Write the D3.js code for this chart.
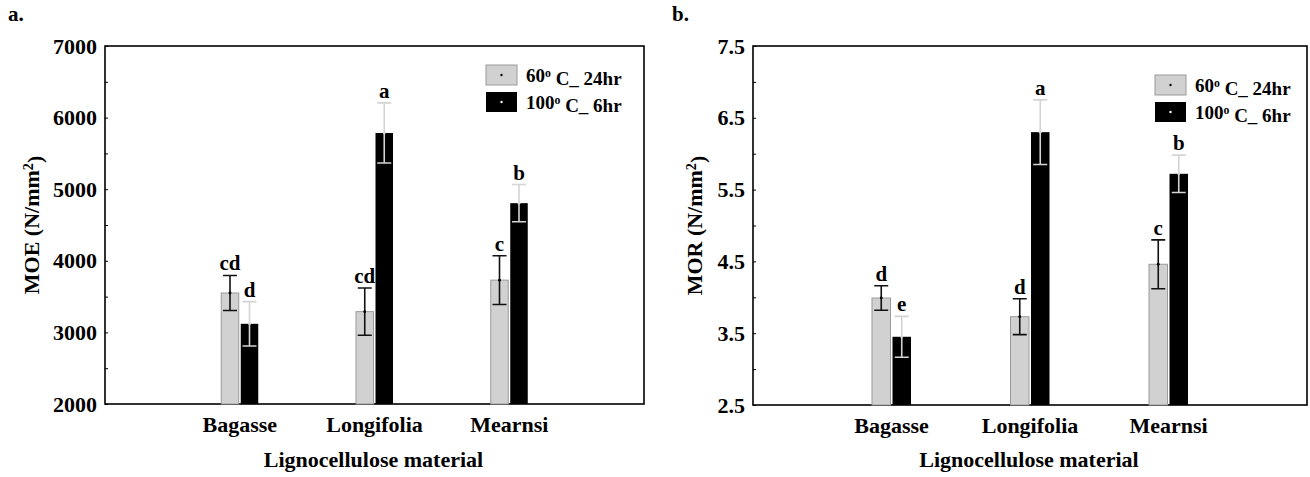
<!DOCTYPE html>
<html>
<head>
<meta charset="utf-8">
<script src="https://cdn.jsdelivr.net/npm/d3@7"></script>
<style>
  body { margin: 0; background: #ffffff; }
  svg text { font-family: "Liberation Serif", "Times New Roman", serif; font-weight: bold; fill: #000; }
</style>
</head>
<body>
<svg id="chart" width="1310" height="477"></svg>
<script>
// values
const categories = ["Bagasse", "Longifolia", "Mearnsi"];
const seriesTemp = ["60", "100"];
const seriesTime = ["24hr", "6hr"];

const moe60 = [3550, 3290, 3730];
const moe60Err = [245, 330, 340];
const moe100 = [3120, 5785, 4805];
const moe100Err = [310, 420, 260];
const moeLetters60 = ["cd", "cd", "c"];
const moeLetters100 = ["d", "a", "b"];
const moeTicks = [2000, 3000, 4000, 5000, 6000, 7000];
const moeMinor = [2500, 3500, 4500, 5500, 6500];

const mor60 = [3.99, 3.73, 4.46];
const mor60Err = [0.17, 0.25, 0.34];
const mor100 = [3.45, 6.30, 5.72];
const mor100Err = [0.285, 0.45, 0.26];
const morLetters60 = ["d", "d", "c"];
const morLetters100 = ["e", "a", "b"];
const morTicks = [2.5, 3.5, 4.5, 5.5, 6.5, 7.5];
const morMinor = [3.0, 4.0, 5.0, 6.0, 7.0];

const grayFill = "#d0d1d0";
const grayStroke = "#9a9a9a";
const lightErr = "#d4d4d4";

const svg = d3.select("#chart");


function superLabel(sel, temp, time) {
    sel.append("tspan").text(temp);
    sel.append("tspan")
        .attr("dy", "-0.45em")
        .style("font-size", "0.62em")
        .text("o");
    sel.append("tspan")
        .attr("dy", "0.45em")
        .text(" C_ " + time);
}


function drawPanel(p) {
    let g = svg.append("g");

    const x = d3.scalePoint()
        .domain(categories)
        .range([p.left, p.right])
        .padding(1);

    const y = d3.scaleLinear()
        .domain(p.domain)
        .range([p.bottom, p.top]);

    // panel letter
    g.append("text")
        .attr("x", p.labelX)
        .attr("y", 21)
        .style("font-size", "21px")
        .text(p.label);

    // y axis, labels only on the major ticks
    g.append("g")
        .attr("transform", `translate(${p.left},0)`)
        .call(d3.axisLeft(y).tickValues(p.ticks).tickSize(0).tickPadding(8).tickFormat(p.fmt))
        .call(a => a.select(".domain").remove())
        .selectAll("text")
        .style("font-size", "22px")
        .style("font-family", "Liberation Serif, serif")
        .style("font-weight", "bold");

    g.append("g")
        .attr("transform", `translate(${p.left},0)`)
        .call(d3.axisRight(y).tickValues(p.minor.concat(p.ticks)).tickSize(3).tickFormat(""))
        .call(a => a.select(".domain").remove())
        .selectAll("line")
        .attr("stroke", "#000");

    // frame
    g.append("rect")
        .attr("x", p.left)
        .attr("y", p.top)
        .attr("width", p.right - p.left)
        .attr("height", p.bottom - p.top)
        .attr("fill", "none")
        .attr("stroke", "#000")
        .attr("stroke-width", 1.6);

    // category labels
    g.selectAll("text.cat")
        .data(categories)
        .join("text")
        .attr("class", "cat")
        .attr("x", d => x(d))
        .attr("y", p.bottom + 28)
        .attr("text-anchor", "middle")
        .style("font-size", "22px")
        .text(d => d);

    g.append("text")
        .attr("x", (p.left + p.right) / 2 - 1)
        .attr("y", 467)
        .attr("text-anchor", "middle")
        .style("font-size", "22px")
        .text("Lignocellulose material");

    g.append("text")
        .attr("transform", `translate(${p.titleX},${(p.top + p.bottom) / 2}) rotate(-90)`)
        .attr("text-anchor", "middle")
        .style("font-size", "22px")
        .each(function() {
            let t = d3.select(this);
            t.append("tspan").text(p.yTitle + " (N/mm");
            t.append("tspan").attr("dy", "-0.45em").style("font-size", "0.65em").text("2");
            t.append("tspan").attr("dy", "0.45em").text(")");
        });

    const series = [
        {vals: p.s60, errs: p.e60, letters: p.l60, dx: -1 - p.barW, fill: grayFill, stroke: grayStroke, err: "#111", dot: "#000"},
        {vals: p.s100, errs: p.e100, letters: p.l100, dx: 1, fill: "#000", stroke: "none", err: lightErr, dot: lightErr}
    ];

    series.forEach(function(s) {
        let rows = categories.map((c, i) => ({c: c, v: s.vals[i], e: s.errs[i], l: s.letters[i]}));
        let sg = g.append("g");

        sg.selectAll("rect")
            .data(rows)
            .join("rect")
            .attr("x", d => x(d.c) + s.dx)
            .attr("y", d => y(d.v))
            .attr("width", p.barW)
            .attr("height", d => y(p.domain[0]) - y(d.v))
            .attr("fill", s.fill)
            .attr("stroke", s.stroke)
            .attr("stroke-width", 1);

        let cx = d => x(d.c) + s.dx + p.barW / 2;

        sg.selectAll("path.err")
            .data(rows)
            .join("path")
            .attr("class", "err")
            .attr("d", d => {
                let x0 = cx(d), y0 = y(d.v + d.e), y1 = y(d.v - d.e);
                return `M${x0 - 7},${y0}H${x0 + 7}M${x0},${y0}V${y1}M${x0 - 7},${y1}H${x0 + 7}`;
            })
            .attr("fill", "none")
            .attr("stroke", s.err)
            .attr("stroke-width", 1.6);

        sg.selectAll("circle")
            .data(rows)
            .join("circle")
            .attr("cx", cx)
            .attr("cy", d => y(d.v))
            .attr("r", 1.4)
            .attr("fill", s.dot);

        sg.selectAll("text")
            .data(rows)
            .join("text")
            .attr("x", cx)
            .attr("y", d => y(d.v + d.e) - 5)
            .attr("text-anchor", "middle")
            .style("font-size", "21px")
            .text(d => d.l);
    });

    // legend
    let lg = g.append("g")
        .attr("transform", `translate(${p.legX},${p.legY})`);

    lg.selectAll("g")
        .data(seriesTemp)
        .join("g")
        .each(function(d, i) {
            let item = d3.select(this);
            item.append("rect")
                .attr("y", i * 27)
                .attr("width", 31)
                .attr("height", 20)
                .attr("fill", i === 0 ? grayFill : "#000")
                .attr("stroke", i === 0 ? grayStroke : "none");
            item.append("circle")
                .attr("cx", 15.5)
                .attr("cy", i * 27 + 10)
                .attr("r", 1.2)
                .attr("fill", i === 0 ? "#000" : "#fff");
            item.append("text")
                .attr("x", 40)
                .attr("y", i * 27 + 17)
                .style("font-size", "19px")
                .call(superLabel, d, seriesTime[i]);
        });
}


drawPanel({
    label: "a.", labelX: 8,
    left: 105, right: 644, top: 46, bottom: 404,
    domain: [2000, 7000], ticks: moeTicks, minor: moeMinor,
    fmt: d3.format("d"),
    barW: 17.5, titleX: 39, yTitle: "MOE",
    s60: moe60, e60: moe60Err, l60: moeLetters60,
    s100: moe100, e100: moe100Err, l100: moeLetters100,
    legX: 486, legY: 65
});

drawPanel({
    label: "b.", labelX: 672,
    left: 753, right: 1307, top: 46, bottom: 405,
    domain: [2.5, 7.5], ticks: morTicks, minor: morMinor,
    fmt: d3.format(".1f"),
    barW: 18.5, titleX: 702, yTitle: "MOR",
    s60: mor60, e60: mor60Err, l60: morLetters60,
    s100: mor100, e100: mor100Err, l100: morLetters100,
    legX: 1155, legY: 75
});
</script>
</body>
</html>
